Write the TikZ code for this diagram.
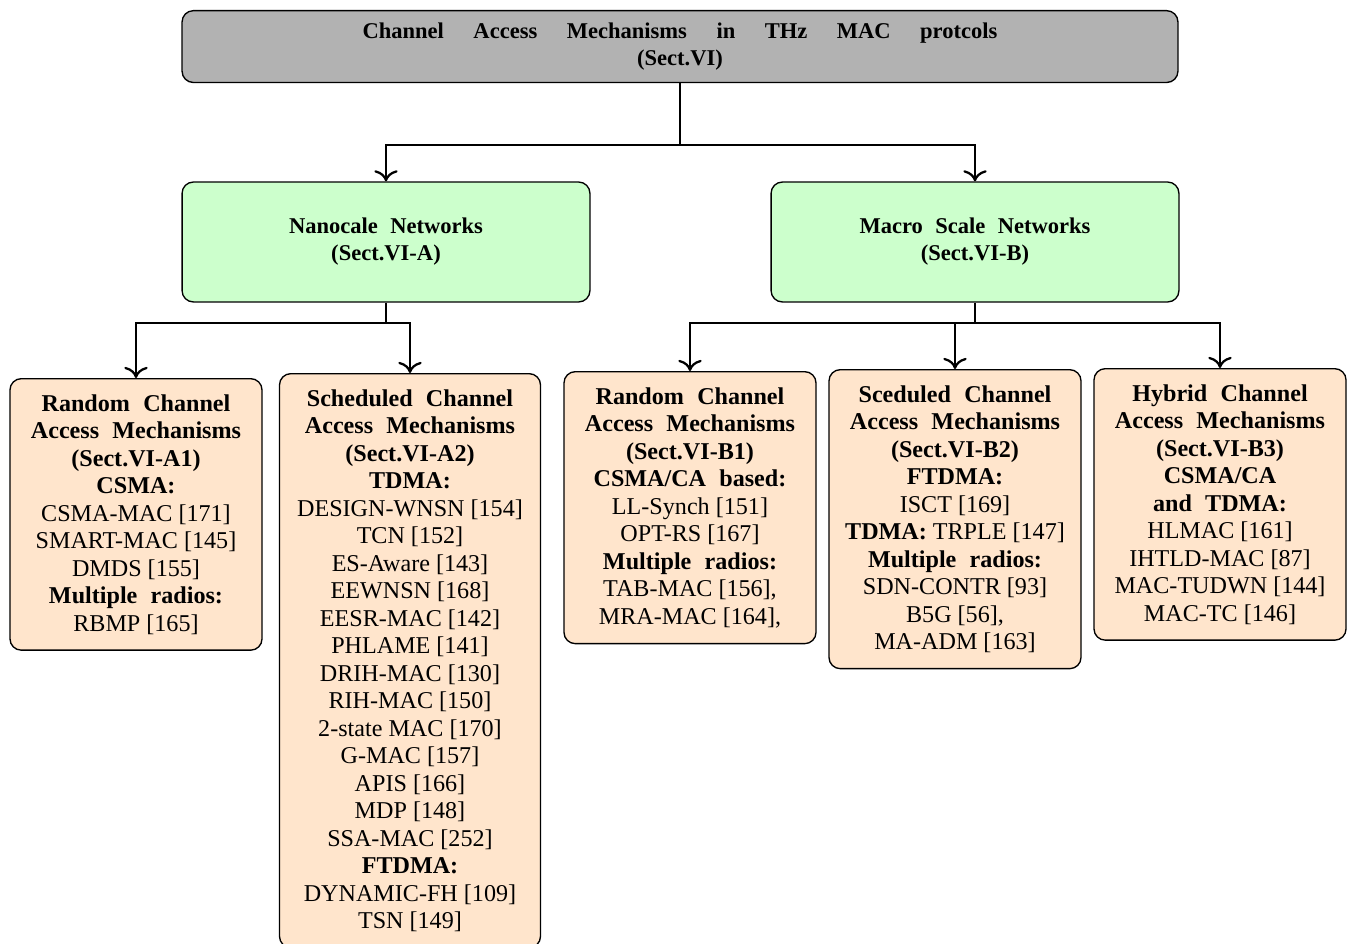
\documentclass[tikz,border=0pt]{standalone}
\usepackage{fontspec}
\setmainfont{Liberation Serif}[BoldFeatures={WordSpace=2.2}]
\usetikzlibrary{arrows.meta}

\tikzset{
  toplevel/.style={draw, line width=0.6pt, fill=gray!60, rounded corners=5pt, align=center, font=\bfseries},
  netbox/.style={draw, line width=0.6pt, fill=green!20, rounded corners=5pt, align=center, font=\bfseries, minimum width=6.36cm, minimum height=1.87cm},
  mechbox/.style={draw, line width=0.6pt, fill=orange!20, rounded corners=5pt, align=center, anchor=north, minimum width=3.93cm, inner ysep=7pt},
  link/.style={line width=1pt, -{To[scale=1.3]}},
}

\begin{document}
\begin{tikzpicture}[x=0.01559cm, y=-0.01559cm, font=\fontsize{10.7}{12.2}\selectfont]
    \useasboundingbox (0,0) rectangle (1347,944);

    % top of the tree
    \node[toplevel, anchor=north, minimum width=15.53cm, minimum height=1.12cm] (cam) at (680,10)
        {\makebox[9.9cm][s]{Channel Access Mechanisms in THz MAC protcols}\\(Sect.VI)};

    % the two network classes
    \node[netbox] (nano) at (386,242) {Nanocale Networks\\(Sect.VI-A)};
    \node[netbox] (macro) at (975,242) {Macro Scale Networks\\(Sect.VI-B)};

    % nanoscale mechanisms
    \node[mechbox] (nrand) at (136,378) {\textbf{Random Channel}\\\textbf{Access Mechanisms}\\\textbf{(Sect.VI-A1)}\\\textbf{CSMA:}\\
        CSMA-MAC [171]\\SMART-MAC [145]\\DMDS [155]\\\textbf{Multiple radios:}\\RBMP [165]};
    \node[mechbox, minimum width=4.07cm] (nsched) at (410,373) {\textbf{Scheduled Channel}\\\textbf{Access Mechanisms}\\\textbf{(Sect.VI-A2)}\\\textbf{TDMA:}\\
        DESIGN-WNSN [154]\\TCN [152]\\ES-Aware [143]\\EEWNSN [168]\\EESR-MAC [142]\\PHLAME [141]\\DRIH-MAC [130]\\RIH-MAC [150]\\
        2-state MAC [170]\\G-MAC [157]\\APIS [166]\\MDP [148]\\SSA-MAC [252]\\\textbf{FTDMA:}\\DYNAMIC-FH [109]\\TSN [149]};

    % macro scale mechanisms
    \node[mechbox] (mrand) at (690,371) {\textbf{Random Channel}\\\textbf{Access Mechanisms}\\\textbf{(Sect.VI-B1)}\\\textbf{CSMA/CA based:}\\
        LL-Synch [151]\\OPT-RS [167]\\\textbf{Multiple radios:}\\TAB-MAC [156],\\MRA-MAC [164],};
    \node[mechbox] (msched) at (955,369) {\textbf{Sceduled Channel}\\\textbf{Access Mechanisms}\\\textbf{(Sect.VI-B2)}\\\textbf{FTDMA:}\\
        ISCT [169]\\\textbf{TDMA:} TRPLE [147]\\\textbf{Multiple radios:}\\SDN-CONTR [93]\\B5G [56],\\MA-ADM [163]};
    \node[mechbox] (mhyb) at (1220,368) {\textbf{Hybrid Channel}\\\textbf{Access Mechanisms}\\\textbf{(Sect.VI-B3)}\\\textbf{CSMA/CA}\\\textbf{and TDMA:}\\
        HLMAC [161]\\IHTLD-MAC [87]\\MAC-TUDWN [144]\\MAC-TC [146]};

    % junctions
    \coordinate (camj) at (680,145);
    \coordinate (nanoj) at (386,323);
    \coordinate (macroj) at (975,323);

    \draw[link, -] (cam) -- (camj);
    \draw[link] (camj) -| (nano);
    \draw[link] (camj) -| (macro);

    \draw[link, -] (nano) -- (nanoj);
    \draw[link] (nanoj) -| (nrand);
    \draw[link] (nanoj) -| (nsched);

    \draw[link, -] (macro) -- (macroj);
    \draw[link] (macroj) -| (mrand);
    \draw[link] (macroj) -| (msched);
    \draw[link] (macroj) -| (mhyb);
\end{tikzpicture}
\end{document}
